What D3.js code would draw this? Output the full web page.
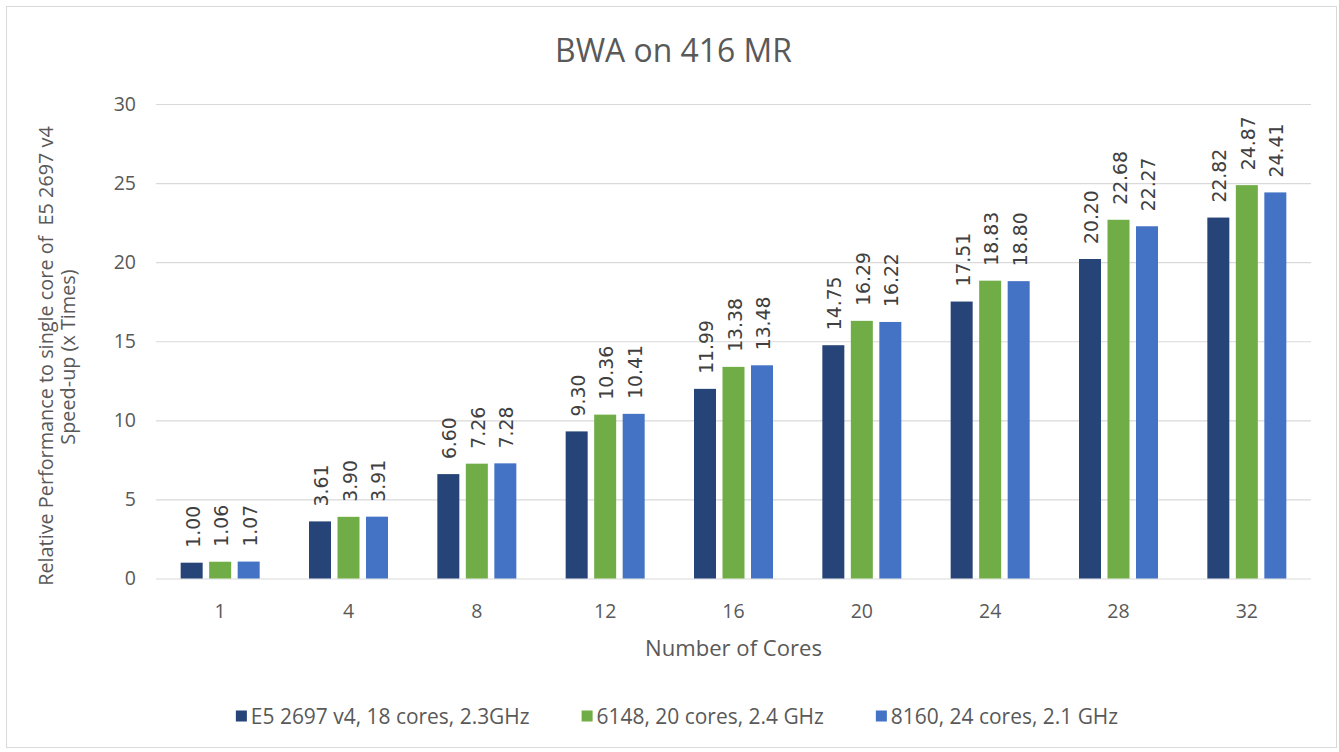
<!DOCTYPE html>
<html><head><meta charset="utf-8">
<script src="https://cdn.jsdelivr.net/npm/d3@7"></script>
<style>html,body{margin:0;padding:0;background:#fff;} svg{display:block;}</style>
</head><body>
<svg id="c" width="1339" height="752"></svg>
<script>
const categories = ["1","4","8","12","16","20","24","28","32"];
const seriesNames = ["E5 2697 v4, 18 cores, 2.3GHz","6148, 20 cores, 2.4 GHz","8160, 24 cores, 2.1 GHz"];
const e5Values   = [1.00, 3.61, 6.60, 9.30, 11.99, 14.75, 17.51, 20.20, 22.82];
const s6148Values = [1.06, 3.90, 7.26, 10.36, 13.38, 16.29, 18.83, 22.68, 24.87];
const s8160Values = [1.07, 3.91, 7.28, 10.41, 13.48, 16.22, 18.80, 22.27, 24.41];
const yTicks = [0,5,10,15,20,25,30];
const colors = ["#264478","#70AD47","#4472C4"];
const titleText = "BWA on 416 MR";
const yTitle1 = "Relative Performance to single core of  E5 2697 v4";
const yTitle2 = "Speed-up (x Times)";
const xTitle = "Number of Cores";

const seriesValues = [e5Values, s6148Values, s8160Values];
const svg = d3.select("#c");
const font = "'Open Sans', 'Noto Sans', sans-serif";
const grey = "#595959";

svg.append("rect").attr("x",6.5).attr("y",6.5).attr("width",1330).attr("height",741)
  .attr("fill","#fff").attr("stroke","#d9d9d9").attr("stroke-width",1);

const L=156, R=1311, T=104, B=578.5;
const x0 = d3.scaleBand().domain(categories).range([L,R]).paddingInner(0).paddingOuter(0);
const groupW = 79;
const x1 = d3.scaleBand().domain([0,1,2]).range([-groupW/2, groupW/2]).paddingInner(0.228).paddingOuter(0);
const y = d3.scaleLinear().domain([0,30]).range([B,T]);

function fit(sel, target){
  const n = sel.node(); const w = n.getComputedTextLength();
  const fs = parseFloat(sel.attr("font-size"));
  sel.attr("font-size", fs*target/w);
}

// y axis with gridlines
const ya = svg.append("g").attr("transform",`translate(${L},0)`)
  .call(d3.axisLeft(y).tickValues(yTicks).tickSize(-(R-L)).tickPadding(20).tickFormat(d3.format("d")));
ya.select(".domain").remove();
ya.selectAll(".tick line").attr("stroke","#d9d9d9").attr("stroke-width",1.2);
ya.selectAll(".tick text").attr("fill",grey).attr("font-family",font).attr("font-size",19.5);

// x axis labels
const xa = svg.append("g").attr("transform",`translate(0,${B})`)
  .call(d3.axisBottom(x0).tickSize(0).tickPadding(26));
xa.select(".domain").remove();
xa.selectAll(".tick text").attr("fill",grey).attr("font-family",font).attr("font-size",19.5);

// bars
const groups = svg.append("g").selectAll("g").data(categories).join("g")
  .attr("transform", d=>`translate(${x0(d)+x0.bandwidth()/2},0)`);
groups.selectAll("rect").data((d,i)=>seriesValues.map((s,k)=>({k, v:s[i]}))).join("rect")
  .attr("x", d=>x1(d.k)).attr("width", x1.bandwidth())
  .attr("y", d=>y(d.v)).attr("height", d=>B-y(d.v))
  .attr("fill", d=>colors[d.k]);
groups.selectAll("text").data((d,i)=>seriesValues.map((s,k)=>({k, v:s[i]}))).join("text")
  .attr("transform", d=>`translate(${x1(d.k)+x1.bandwidth()/2+1.5},${y(d.v)-15}) rotate(-90)`)
  .attr("dominant-baseline","central")
  .attr("font-family","'DejaVu Sans', sans-serif").attr("font-size",18.8).attr("fill","#404040")
  .text(d=>d.v.toFixed(2));

// title
const t = svg.append("text").attr("x",673.5).attr("y",62).attr("text-anchor","middle")
  .attr("font-family",font).attr("font-size",28).attr("fill",grey).text(titleText);
fit(t,237);

// y title
const yt1 = svg.append("text").attr("transform","translate(45,356) rotate(-90)")
  .attr("text-anchor","middle").attr("dominant-baseline","central")
  .attr("font-family",font).attr("font-size",19).attr("fill",grey).attr("xml:space","preserve").text(yTitle1);
fit(yt1,460);
const fsY = yt1.attr("font-size");
svg.append("text").attr("transform","translate(67,357) rotate(-90)")
  .attr("text-anchor","middle").attr("dominant-baseline","central")
  .attr("font-family",font).attr("font-size",fsY).attr("fill",grey).text(yTitle2);

// x title
const xt = svg.append("text").attr("x",(L+R)/2).attr("y",656).attr("text-anchor","middle")
  .attr("font-family",font).attr("font-size",19).attr("fill",grey).text(xTitle);
fit(xt,177);

// legend
const lg = svg.append("g");
const texts = [];
let items = seriesNames.map((n,i)=>{
  const g = lg.append("g");
  g.append("rect").attr("width",11).attr("height",11).attr("y",-5.5).attr("fill",colors[i]);
  const tx = g.append("text").attr("x",15).attr("dominant-baseline","central")
    .attr("font-family",font).attr("font-size",17).attr("fill",grey).text(n);
  texts.push(tx);
  return {g, tx};
});
fit(texts[0], 279);
const lfs = texts[0].attr("font-size");
texts.forEach(tx=>tx.attr("font-size",lfs));
items.forEach(it=>{ it.w = 15 + it.tx.node().getComputedTextLength(); });
const gap = 52;
const total = d3.sum(items, d=>d.w) + gap*(items.length-1);
let cx = 677 - total/2;
items.forEach(it=>{ it.g.attr("transform",`translate(${cx},716)`); cx += it.w + gap; });
</script>
</body></html>
